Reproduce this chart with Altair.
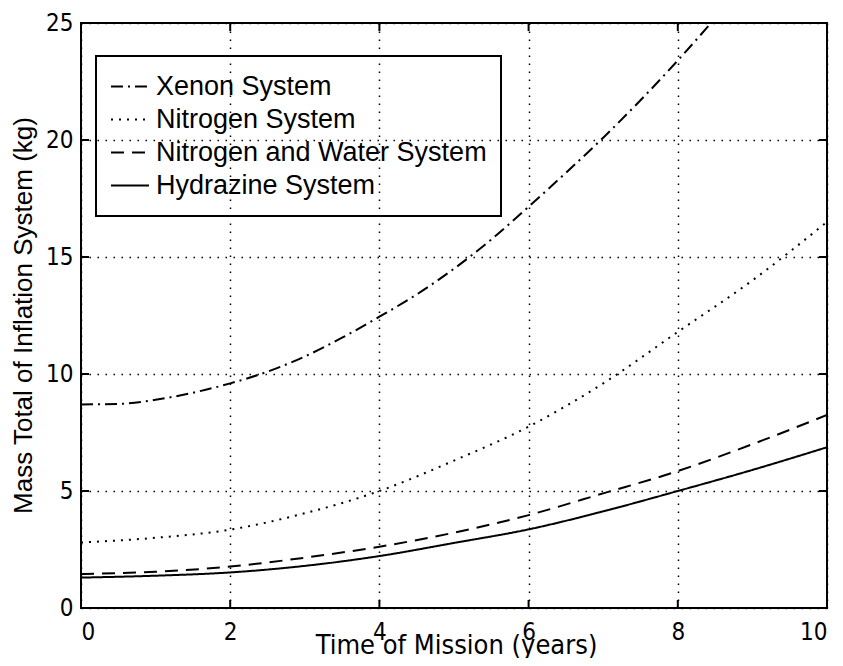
import altair as alt
import pandas as pd

# ---- data ----
series_names = ["Xenon System", "Nitrogen System", "Nitrogen and Water System", "Hydrazine System"]

xenon_years = [0, 0.5, 1, 1.5, 2, 2.5, 3, 3.5, 4, 4.5, 5, 5.5, 6, 6.5, 7, 7.5, 8, 8.5]
xenon_mass = [8.7, 8.72, 8.9, 9.2, 9.6, 10.1, 10.75, 11.55, 12.45, 13.4, 14.5, 15.75, 17.15, 18.6, 20.1, 21.7, 23.4, 25.2]

years = [0, 1, 2, 3, 4, 5, 6, 7, 8, 9, 10]
nitrogen_mass = [2.8, 3.0, 3.35, 4.05, 5.0, 6.3, 7.75, 9.6, 11.8, 14.0, 16.5]
nitro_water_mass = [1.45, 1.55, 1.77, 2.15, 2.62, 3.22, 3.97, 4.9, 5.85, 7.0, 8.25]
hydrazine_mass = [1.3, 1.38, 1.52, 1.8, 2.22, 2.78, 3.36, 4.13, 5.0, 5.9, 6.87]

x_ticks = [0, 2, 4, 6, 8, 10]
y_ticks = [0, 5, 10, 15, 20, 25]

dash_styles = [[12, 5, 2, 5], [2, 6], [13, 8], [1, 0]]

rows = []
for x, v in zip(xenon_years, xenon_mass):
    rows.append({"year": x, "mass": v, "system": series_names[0]})
for x, v in zip(years, nitrogen_mass):
    rows.append({"year": x, "mass": v, "system": series_names[1]})
for x, v in zip(years, nitro_water_mass):
    rows.append({"year": x, "mass": v, "system": series_names[2]})
for x, v in zip(years, hydrazine_mass):
    rows.append({"year": x, "mass": v, "system": series_names[3]})
df = pd.DataFrame(rows)

W, H = 746, 585
NARROW = "DejaVu Sans Condensed, Liberation Sans Narrow, sans-serif"
SANS = "Liberation Sans, Arial, Helvetica, sans-serif"

xscale = alt.Scale(domain=[0, 10], nice=False, zero=False)
yscale = alt.Scale(domain=[0, 25], nice=False, zero=False)

x_axis = alt.Axis(values=x_ticks, title="Time of Mission (years)", grid=True,
                  titleX=375, titleY=45, titleBaseline="alphabetic", titleAlign="center",
                  titleFont=NARROW, titleFontSize=27, labelPadding=12)
y_axis = alt.Axis(values=y_ticks, title="Mass Total of Inflation System (kg)", grid=True,
                  titleX=-58, titleY=292, titleAngle=270, titleBaseline="middle",
                  titleAlign="center", titleFont=SANS, titleFontSize=26, labelPadding=8)

lines = alt.Chart(df).mark_line(clip=True, color="black", strokeWidth=2, interpolate="monotone").encode(
    x=alt.X("year:Q", scale=xscale, axis=x_axis),
    y=alt.Y("mass:Q", scale=yscale, axis=y_axis),
    strokeDash=alt.StrokeDash("system:N",
                              scale=alt.Scale(domain=series_names, range=dash_styles),
                              sort=series_names,
                              legend=alt.Legend(
                                  title=None, orient="none", legendX=15, legendY=33,
                                  direction="vertical",
                                  symbolType="stroke", symbolSize=1444, symbolStrokeWidth=2,
                                  symbolStrokeColor="black",
                                  labelFont=SANS, labelFontSize=27, labelColor="black",
                                  labelOffset=6, labelLimit=500,
                                  clipHeight=33, rowPadding=0, padding=14,
                                  strokeColor="black",
                              )),
)

xt_df = pd.DataFrame({"year": x_ticks})
yt_df = pd.DataFrame({"mass": y_ticks})

x_bottom = alt.Chart(xt_df).mark_rule(color="black", strokeWidth=2).encode(
    x=alt.X("year:Q", scale=xscale, axis=x_axis), y=alt.value(H - 8), y2=alt.value(H))
x_top = alt.Chart(xt_df).mark_rule(color="black", strokeWidth=2).encode(
    x=alt.X("year:Q", scale=xscale, axis=x_axis), y=alt.value(0), y2=alt.value(8))
y_left = alt.Chart(yt_df).mark_rule(color="black", strokeWidth=2).encode(
    y=alt.Y("mass:Q", scale=yscale, axis=y_axis), x=alt.value(0), x2=alt.value(8))
y_right = alt.Chart(yt_df).mark_rule(color="black", strokeWidth=2).encode(
    y=alt.Y("mass:Q", scale=yscale, axis=y_axis), x=alt.value(W - 8), x2=alt.value(W))

chart = alt.layer(lines, x_bottom, x_top, y_left, y_right).properties(
    width=W, height=H,
    autosize=alt.AutoSizeParams(type="none"),
    padding={"left": 73, "top": 15, "right": 8, "bottom": 50},
).configure_view(
    stroke="black", strokeWidth=2
).configure_axis(
    domain=False, ticks=False,
    gridColor="black", gridDash=[1.5, 6.5], gridWidth=1.5, gridOpacity=1,
    labelFont=NARROW, labelFontSize=24, labelColor="black",
    titleColor="black", titleFontWeight="normal",
).configure_legend(
    strokeWidth=2
)

chart.save("out.html", embed_options={"renderer": "svg", "actions": False})
